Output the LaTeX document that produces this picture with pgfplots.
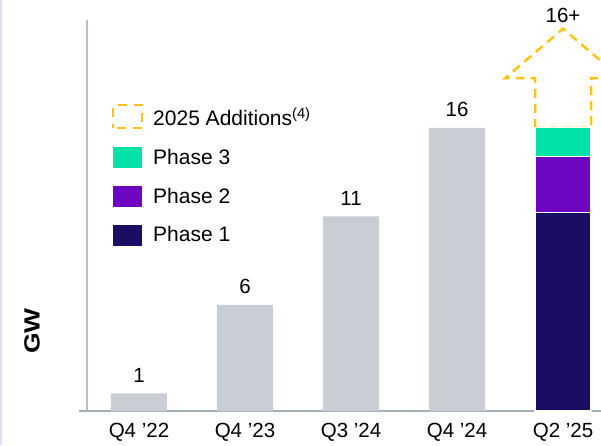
\documentclass[border=0pt]{standalone}
\usepackage{pgfplots}
\pgfplotsset{compat=1.18}
\usepackage{fontspec}
\setmainfont{Liberation Sans}
\definecolor{bargray}{HTML}{C8CED4}
\definecolor{teal3}{HTML}{00E2A6}
\definecolor{purp2}{HTML}{6C06C0}
\definecolor{navy1}{HTML}{1A0E63}
\definecolor{gold}{HTML}{FFC215}
\definecolor{axgray}{HTML}{A3AEB8}
\definecolor{ygray}{HTML}{B3BEC6}
\definecolor{lav}{HTML}{E2DFF0}
\begin{document}
\begin{tikzpicture}[x=1pt,y=1pt]
\fill[lav] (0,0) rectangle (2,445);
\begin{axis}[
  at={(86.5pt,34pt)}, anchor=south west,
  scale only axis, width=514.5pt, height=391pt,
  xmin=-0.495, xmax=4.358, ymin=0, ymax=22.09,
  clip=false,
  axis lines*=left,
  ytick=\empty,
  xtick={0,1,2,3,4},
  xticklabels={Q4 '22, Q4 '23, Q3 '24, Q4 '24, Q2 '25},
  major tick length=0pt,
  x axis line style={draw=axgray, line width=2.5pt, shorten <=-8pt},
  y axis line style={draw=ygray, line width=2pt},
  xticklabel style={font=\fontsize{20.5}{24}\selectfont, anchor=base, yshift=-26pt},
  legend style={draw=none, fill=none, at={(axis description cs:0.0496,0.785)}, anchor=north west,
    font=\fontsize{21}{24}\selectfont, row sep=18pt, column sep=8pt, inner sep=0pt},
  legend cell align=left,
]
\addplot[forget plot, ybar, bar width=56pt, bar shift=0pt, fill=bargray, draw=none,
  nodes near coords, point meta=explicit symbolic,
  every node near coord/.append style={font=\fontsize{20.5}{24}\selectfont, anchor=base, yshift=11pt}]
  coordinates {(0,1) [1] (1,6) [6] (2,11) [11] (3,16) [16]};
\addplot[forget plot, draw=gold, dash pattern=on 9pt off 6pt, line width=2.5pt, no marks]
  coordinates {(3.736,16) (3.736,18.8) (3.453,18.8) (4,21.6) (4.547,18.8) (4.264,18.8) (4.264,16) (3.736,16)};
\node[font=\fontsize{20.5}{24}\selectfont, anchor=base] at (axis cs:4,21.95) {16+};
\addlegendimage{legend image code/.code={\draw[gold, line width=2pt, dash pattern=on 9pt off 7pt, dash phase=4.5pt] (0pt,-11pt) rectangle (29pt,12pt);}}
\addlegendentry{2025 Additions\textsuperscript{(4)}}
\addlegendimage{legend image code/.code={\fill[teal3] (0pt,-10pt) rectangle (28pt,10pt);}}
\addlegendentry{Phase 3}
\addlegendimage{legend image code/.code={\fill[purp2] (0pt,-10pt) rectangle (28pt,10pt);}}
\addlegendentry{Phase 2}
\addlegendimage{legend image code/.code={\fill[navy1] (0pt,-10pt) rectangle (28pt,10pt);}}
\addlegendentry{Phase 1}
\end{axis}
\begin{axis}[
  at={(86.5pt,34pt)}, anchor=south west,
  scale only axis, width=514.5pt, height=391pt,
  xmin=-0.495, xmax=4.358, ymin=0, ymax=22.09,
  hide axis, ybar stacked, bar width=56pt,
]
\addplot[fill=navy1, draw=white, line width=1.2pt] coordinates {(4,11.2)};
\addplot[fill=purp2, draw=white, line width=1.2pt] coordinates {(4,3.2)};
\addplot[fill=teal3, draw=white, line width=1.2pt] coordinates {(4,1.6)};
\end{axis}
\node[rotate=90, font=\bfseries\fontsize{22}{26}\selectfont] at (32,114) {\scalebox{1.2}[1]{GW}};
\pgfresetboundingbox
\useasboundingbox (0,0) rectangle (601,445);
\end{tikzpicture}
\end{document}
